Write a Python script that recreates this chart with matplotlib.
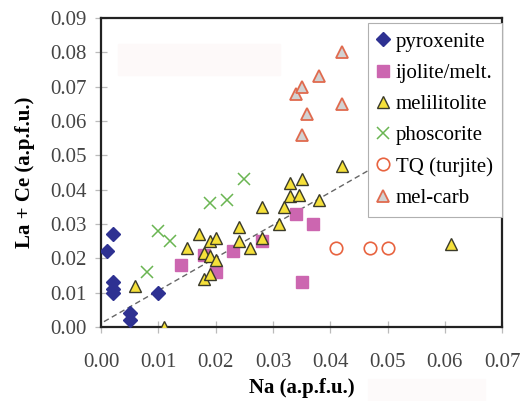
import matplotlib

matplotlib.use("Agg")

import matplotlib.pyplot as plt
from matplotlib.patches import Rectangle

SERIF = ["Liberation Serif", "DejaVu Serif"]
plt.rcParams["font.family"] = SERIF

# data (Na vs La + Ce, a.p.f.u.)
pyroxenite_na = [0.001, 0.002, 0.002, 0.002, 0.002, 0.005, 0.005, 0.010]
pyroxenite_lace = [0.022, 0.027, 0.013, 0.011, 0.010, 0.004, 0.002, 0.010]

ijolite_na = [0.014, 0.018, 0.020, 0.023, 0.028, 0.034, 0.037, 0.035]
ijolite_lace = [0.018, 0.021, 0.016, 0.022, 0.025, 0.033, 0.030, 0.013]

melilitolite_na = [0.006, 0.011, 0.015, 0.017, 0.018, 0.018, 0.019, 0.019,
                   0.019, 0.020, 0.020, 0.024, 0.024, 0.026, 0.028, 0.028,
                   0.031, 0.032, 0.033, 0.033, 0.0345, 0.035, 0.038, 0.042,
                   0.061]
melilitolite_lace = [0.012, 0.000, 0.023, 0.027, 0.014, 0.0215, 0.0155, 0.0205,
                     0.025, 0.026, 0.0195, 0.029, 0.025, 0.023, 0.035, 0.026,
                     0.030, 0.035, 0.038, 0.042, 0.0385, 0.043, 0.037, 0.047,
                     0.024]

phoscorite_na = [0.008, 0.010, 0.012, 0.019, 0.022, 0.025]
phoscorite_lace = [0.016, 0.028, 0.025, 0.036, 0.037, 0.043]

tq_na = [0.041, 0.047, 0.050]
tq_lace = [0.023, 0.023, 0.023]

melcarb_na = [0.034, 0.035, 0.038, 0.042, 0.042, 0.036, 0.035]
melcarb_lace = [0.068, 0.070, 0.073, 0.080, 0.065, 0.062, 0.056]

trend_na = [0.0005, 0.047]
trend_lace = [0.0015, 0.0459]

x_ticks = [0.00, 0.01, 0.02, 0.03, 0.04, 0.05, 0.06, 0.07]
y_ticks = [0.00, 0.01, 0.02, 0.03, 0.04, 0.05, 0.06, 0.07, 0.08, 0.09]

fig = plt.figure(figsize=(5.21, 4.01), dpi=100)
ax = fig.add_axes([0.194, 0.185, 0.770, 0.770])

ax.plot(trend_na, trend_lace, color="#666666", linestyle=(0, (4, 2.5)),
        linewidth=1.0, zorder=2)

ax.plot(pyroxenite_na, pyroxenite_lace, linestyle="none", marker="D",
        markersize=7, color="#2e3192", markeredgecolor="#2e3192",
        label="pyroxenite", zorder=3)
ax.plot(ijolite_na, ijolite_lace, linestyle="none", marker="s",
        markersize=9, color="#cc66b0", markeredgecolor="#cc66b0",
        label="ijolite/melt.", zorder=3)
ax.plot(melilitolite_na, melilitolite_lace, linestyle="none", marker="^",
        markersize=9, markerfacecolor="#f5e03a", markeredgecolor="#3a3a2a",
        markeredgewidth=1.0, label="melilitolite", zorder=4)
ax.plot(phoscorite_na, phoscorite_lace, linestyle="none", marker="x",
        markersize=9, color="#6ab552", markeredgewidth=1.1,
        label="phoscorite", zorder=3)
ax.plot(tq_na, tq_lace, linestyle="none", marker="o", markersize=9,
        markerfacecolor="white", markeredgecolor="#e8633f",
        markeredgewidth=1.2, label="TQ (turjite)", zorder=3)
ax.plot(melcarb_na, melcarb_lace, linestyle="none", marker="^",
        markersize=9, markerfacecolor="#d2d2d2", markeredgecolor="#e06a4e",
        markeredgewidth=1.3, label="mel-carb", zorder=3)

ax.set_xlim(0, 0.07)
ax.set_ylim(0, 0.09)
ax.set_xticks(x_ticks, [f"{v:.2f}" for v in x_ticks])
ax.set_yticks(y_ticks, [f"{v:.2f}" for v in y_ticks])
ax.tick_params(direction="inout", length=9, width=0.9, color="#bbbbbb",
               labelsize=15, labelcolor="#444444")
ax.tick_params(axis="x", pad=14)
ax.tick_params(axis="y", pad=6)
for spine in ax.spines.values():
    spine.set_linewidth(1.6)
    spine.set_color("#222222")

ax.set_xlabel("Na (a.p.f.u.)", fontsize=15, fontweight="bold", labelpad=5)
ax.set_ylabel("La + Ce (a.p.f.u.)", fontsize=15, fontweight="bold", labelpad=11)

legend = ax.legend(loc="upper right", bbox_to_anchor=(1.0, 0.985),
                   borderaxespad=0, fontsize=15, frameon=True, fancybox=False,
                   handlelength=0.55, handletextpad=0.35, labelspacing=0.56,
                   borderpad=0.45, framealpha=1.0)
legend.get_frame().set_edgecolor("#b0b0b0")
legend.get_frame().set_linewidth(0.8)
legend.set_zorder(10)

# faint masking rectangles present in the reference image
fig.patches.append(Rectangle((118 / 521, 1 - 75 / 401), 162 / 521, 31 / 401,
                             transform=fig.transFigure, color="#fdf9f9",
                             zorder=0.5))
fig.patches.append(Rectangle((368 / 521, 0), 117 / 521, 22 / 401,
                             transform=fig.transFigure, color="#fdfafa",
                             zorder=0))

fig.savefig("out.png", dpi=100)
